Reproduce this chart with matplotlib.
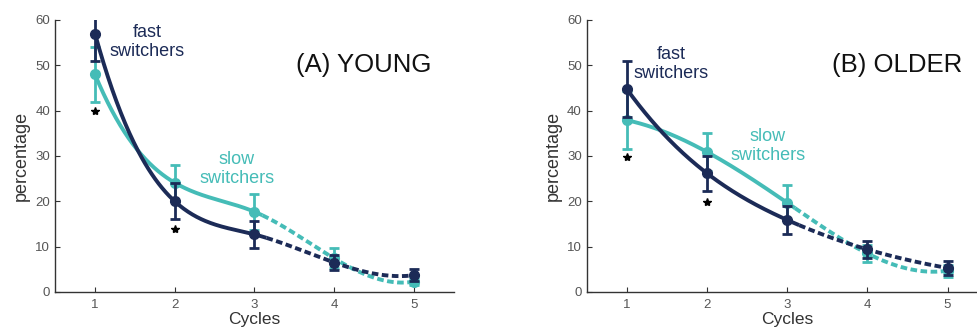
import numpy as np
import matplotlib
matplotlib.use("Agg")
import matplotlib.pyplot as plt

plt.rcParams['font.family'] = ['Liberation Sans', 'DejaVu Sans']

cycles = [1, 2, 3, 4, 5]
young_fast = [57.0, 20.0, 12.7, 6.5, 3.7]
young_fast_err = [6.0, 4.0, 3.0, 1.7, 1.3]
young_slow = [48.0, 24.1, 17.7, 7.4, 2.3]
young_slow_err = [6.0, 4.0, 4.0, 2.2, 0.8]
older_fast = [44.8, 26.2, 15.9, 9.4, 5.3]
older_fast_err = [6.2, 3.9, 3.1, 1.8, 1.6]
older_slow = [37.9, 30.9, 19.7, 8.5, 4.7]
older_slow_err = [6.4, 4.2, 3.9, 1.8, 1.3]
young_stars = [(1, 40.0), (2, 14.0)]
older_stars = [(1, 29.8), (2, 19.8)]

NAVY = '#1c2b57'
TEAL = '#45bcb7'
W, H = 977, 329


def spline_nak(x, y, xs):
    """Cubic spline with not-a-knot end conditions."""
    x = np.asarray(x, float); y = np.asarray(y, float)
    n = len(x)
    h = np.diff(x)
    A = np.zeros((n, n)); b = np.zeros(n)
    A[0, 0] = h[1]; A[0, 1] = -(h[0] + h[1]); A[0, 2] = h[0]
    A[-1, -3] = h[-1]; A[-1, -2] = -(h[-2] + h[-1]); A[-1, -1] = h[-2]
    for i in range(1, n - 1):
        A[i, i - 1] = h[i - 1]; A[i, i] = 2 * (h[i - 1] + h[i]); A[i, i + 1] = h[i]
        b[i] = 3 * ((y[i + 1] - y[i]) / h[i] - (y[i] - y[i - 1]) / h[i - 1])
    c = np.linalg.solve(A, b)
    out = np.empty_like(xs)
    for k, xv in enumerate(xs):
        i = min(max(np.searchsorted(x, xv) - 1, 0), n - 2)
        dx = xv - x[i]
        bi = (y[i + 1] - y[i]) / h[i] - h[i] * (2 * c[i] + c[i + 1]) / 3
        di = (c[i + 1] - c[i]) / (3 * h[i])
        out[k] = y[i] + bi * dx + c[i] * dx ** 2 + di * dx ** 3
    return out


def draw_series(ax, vals, errs, color, split, z):
    xs1 = np.linspace(1, split, 200)
    xs2 = np.linspace(split, 5, 200)
    ax.plot(xs1, spline_nak(cycles, vals, xs1), color=color, lw=2.8,
            solid_capstyle='butt', zorder=z)
    ax.plot(xs2, spline_nak(cycles, vals, xs2), color=color, lw=2.8,
            ls=(0, (1.7, 0.9)), zorder=z)
    ax.errorbar(cycles, vals, yerr=errs, fmt='o', color=color, ms=7,
                elinewidth=2.0, capsize=3.5, capthick=2.0, zorder=z + 0.5)


def panel(ax, fast, ferr, slow, serr, stars, title, fast_pos, slow_pos):
    draw_series(ax, slow, serr, TEAL, 3.1, 3)
    draw_series(ax, fast, ferr, NAVY, 3.15, 5)
    for sx, sy in stars:
        ax.plot(sx, sy, marker='*', color='black', ms=6, ls='none', zorder=6)
    ax.set_xlim(0.5, 5.5)
    ax.set_ylim(0, 60)
    ax.set_xticks(cycles)
    ax.set_yticks([0, 10, 20, 30, 40, 50, 60])
    ax.spines['top'].set_visible(False)
    ax.spines['right'].set_visible(False)
    for s in ['left', 'bottom']:
        ax.spines[s].set_color('#333333')
        ax.spines[s].set_linewidth(1.0)
    ax.tick_params(direction='in', length=3.5, labelsize=9.5, colors='#333333',
                   labelcolor='#555555')
    ax.tick_params(axis='x', pad=5)
    ax.set_ylabel('percentage', fontsize=13, color='#333333', labelpad=4)
    ax.set_xlabel('Cycles', fontsize=12.5, color='#333333', labelpad=0.5)
    ax.text(fast_pos[0], fast_pos[1], 'fast\nswitchers', color=NAVY,
            fontsize=13, ha='center', va='center', linespacing=1.15, zorder=7)
    ax.text(slow_pos[0], slow_pos[1], 'slow\nswitchers', color=TEAL,
            fontsize=13, ha='center', va='center', linespacing=1.15, zorder=7)
    ax.text(4.37, 50, title, color='#111111', fontsize=18.5, ha='center',
            va='center', zorder=7)


fig = plt.figure(figsize=(W / 100, H / 100), dpi=100)
ax1 = fig.add_axes([55.1 / W, 1 - 292 / H, 398.8 / W, 272 / H])
ax2 = fig.add_axes([586.6 / W, 1 - 292 / H, 401 / W, 272 / H])

panel(ax1, young_fast, young_fast_err, young_slow, young_slow_err, young_stars,
      '(A) YOUNG', (1.65, 55.2), (2.78, 27.2))
panel(ax2, older_fast, older_fast_err, older_slow, older_slow_err, older_stars,
      '(B) OLDER', (1.55, 50.2), (2.76, 32.2))

fig.savefig('out.png', dpi=100)
